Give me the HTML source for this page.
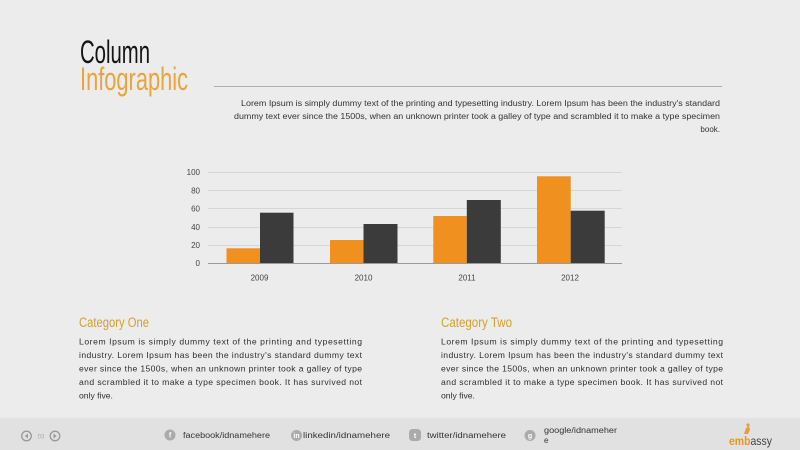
<!DOCTYPE html>
<html><head><meta charset="utf-8"><style>
html,body{margin:0;padding:0;background:#ececec;}
svg{display:block;}
</style></head><body>
<svg width="800" height="450" viewBox="0 0 800 450" xmlns="http://www.w3.org/2000/svg">
<rect width="800" height="450" fill="#ececec"/>
<!-- Title -->
<text x="80" y="63" font-family="'Liberation Sans Narrow','Liberation Sans',sans-serif" font-size="32" fill="#151515" textLength="70" lengthAdjust="spacingAndGlyphs">Column</text>
<text x="80" y="90" font-family="'Liberation Sans Narrow','Liberation Sans',sans-serif" font-size="32" fill="#e9a43e" textLength="108" lengthAdjust="spacingAndGlyphs">Infographic</text>
<line x1="214" y1="86.5" x2="722" y2="86.5" stroke="#b0b0b0" stroke-width="1"/>
<g font-family="'Liberation Sans',sans-serif" font-size="8" fill="#333">
<text x="241" y="106" textLength="479" lengthAdjust="spacingAndGlyphs">Lorem Ipsum is simply dummy text of the printing and typesetting industry. Lorem Ipsum has been the industry's standard</text>
<text x="234" y="119" textLength="486" lengthAdjust="spacingAndGlyphs">dummy text ever since the 1500s, when an unknown printer took a galley of type and scrambled it to make a type specimen</text>
<text x="720" y="132" text-anchor="end">book.</text>
</g>
<!-- Chart -->
<g stroke="#d6d6d6" stroke-width="1">
<line x1="208" y1="172.5" x2="622" y2="172.5"/>
<line x1="208" y1="190.5" x2="622" y2="190.5"/>
<line x1="208" y1="208.5" x2="622" y2="208.5"/>
<line x1="208" y1="227.5" x2="622" y2="227.5"/>
<line x1="208" y1="245.5" x2="622" y2="245.5"/>
</g>
<g font-family="'Liberation Sans',sans-serif" font-size="8" fill="#444" text-anchor="end">
<text x="200" y="175">100</text>
<text x="200" y="193.5">80</text>
<text x="200" y="211.5">60</text>
<text x="200" y="230">40</text>
<text x="200" y="248">20</text>
<text x="200" y="266">0</text>
</g>
<g>
<rect x="226.5" y="248.3" width="33.5" height="15" fill="#f0901f"/>
<rect x="260" y="212.7" width="33.5" height="50.6" fill="#3b3b3b"/>
<rect x="330" y="240" width="33.5" height="23.3" fill="#f0901f"/>
<rect x="363.5" y="224" width="34" height="39.3" fill="#3b3b3b"/>
<rect x="433.3" y="216" width="33.5" height="47.3" fill="#f0901f"/>
<rect x="466.8" y="200" width="34" height="63.3" fill="#3b3b3b"/>
<rect x="537" y="176.3" width="33.7" height="87" fill="#f0901f"/>
<rect x="570.7" y="210.7" width="34" height="52.6" fill="#3b3b3b"/>
</g>
<line x1="208" y1="263.5" x2="622" y2="263.5" stroke="#9a9a9a" stroke-width="1"/>
<g font-family="'Liberation Sans',sans-serif" font-size="8" fill="#444" text-anchor="middle">
<text x="259.5" y="280.5">2009</text>
<text x="363.5" y="280.5">2010</text>
<text x="467" y="280.5">2011</text>
<text x="570" y="280.5">2012</text>
</g>
<!-- Categories -->
<text x="79" y="327" font-family="'Liberation Sans Narrow','Liberation Sans',sans-serif" font-size="13.5" fill="#d49e30" textLength="70" lengthAdjust="spacingAndGlyphs">Category One</text>
<text x="441" y="327" font-family="'Liberation Sans Narrow','Liberation Sans',sans-serif" font-size="13.5" fill="#d49e30" textLength="71" lengthAdjust="spacingAndGlyphs">Category Two</text>
<g font-family="'Liberation Sans',sans-serif" font-size="8.6" fill="#2e2e2e">
<text x="79" y="344.5" textLength="283" lengthAdjust="spacing">Lorem Ipsum is simply dummy text of the printing and typesetting</text>
<text x="79" y="358" textLength="283" lengthAdjust="spacing">industry. Lorem Ipsum has been the industry's standard dummy text</text>
<text x="79" y="371.5" textLength="283" lengthAdjust="spacing">ever since the 1500s, when an unknown printer took a galley of type</text>
<text x="79" y="385" textLength="283" lengthAdjust="spacing">and scrambled it to make a type specimen book. It has survived not</text>
<text x="79" y="398.5">only five.</text>
<text x="441" y="344.5" textLength="282" lengthAdjust="spacing">Lorem Ipsum is simply dummy text of the printing and typesetting</text>
<text x="441" y="358" textLength="282" lengthAdjust="spacing">industry. Lorem Ipsum has been the industry's standard dummy text</text>
<text x="441" y="371.5" textLength="282" lengthAdjust="spacing">ever since the 1500s, when an unknown printer took a galley of type</text>
<text x="441" y="385" textLength="282" lengthAdjust="spacing">and scrambled it to make a type specimen book. It has survived not</text>
<text x="441" y="398.5">only five.</text>
</g>
<!-- Footer -->
<rect x="0" y="418" width="800" height="32" fill="#e1e1e1"/>
<line x1="0" y1="418" x2="800" y2="418" stroke="#e6e6e6" stroke-width="1"/>
<g fill="none" stroke="#9a9a9a" stroke-width="1.3">
<circle cx="26.5" cy="436" r="4.8"/>
<circle cx="55" cy="436" r="4.8"/>
</g>
<path d="M28 433.5 L24.8 436 L28 438.5 Z" fill="#9a9a9a"/>
<path d="M53.5 433.5 L56.7 436 L53.5 438.5 Z" fill="#9a9a9a"/>
<text x="41" y="438.5" font-family="'Liberation Sans',sans-serif" font-size="6" fill="#a8a8a8" text-anchor="middle">03</text>
<g fill="#ababab">
<circle cx="170" cy="435" r="5.5"/>
<circle cx="296.5" cy="435.5" r="5.5"/>
<rect x="409" y="429" width="12" height="12" rx="3.5"/>
<circle cx="530" cy="435.5" r="5.5"/>
</g>
<g font-family="'Liberation Sans',sans-serif" font-size="7" fill="#fff" text-anchor="middle" font-weight="bold">
<text x="170" y="437.5">f</text>
<text x="296.5" y="438">in</text>
<text x="415" y="438">t</text>
<text x="530" y="438">g</text>
</g>
<g font-family="'Liberation Sans',sans-serif" font-size="8" fill="#333">
<text x="183" y="438" textLength="87" lengthAdjust="spacingAndGlyphs">facebook/idnamehere</text>
<text x="303" y="438" textLength="87" lengthAdjust="spacingAndGlyphs">linkedin/idnamehere</text>
<text x="427" y="438" textLength="79" lengthAdjust="spacingAndGlyphs">twitter/idnamehere</text>
<text x="544" y="433" textLength="73" lengthAdjust="spacingAndGlyphs">google/idnameher</text>
<text x="544" y="443">e</text>
</g>
<!-- Logo -->
<path d="M744 434 L746 428 L749 426 L750 430 L748 434 Z" fill="#e0a040"/>
<circle cx="748" cy="425" r="1.6" fill="#e0a040"/>
<text x="729" y="445" font-family="'Liberation Sans',sans-serif" font-size="12" textLength="43" lengthAdjust="spacingAndGlyphs"><tspan fill="#e8961c" font-weight="bold">emb</tspan><tspan fill="#444">assy</tspan></text>
</svg>
</body></html>
